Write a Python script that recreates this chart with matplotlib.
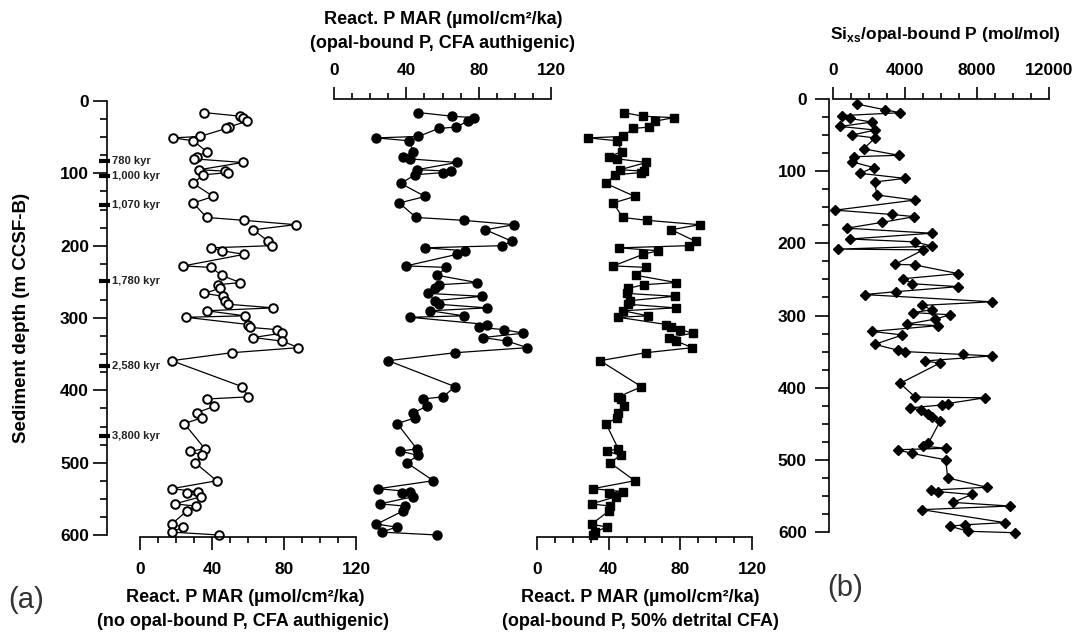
"""
Reactive P mass accumulation rates down core, with Si_xs/opal-bound P ratio.
Three MAR scenarios share one depth axis in panel (a); panel (b) is the ratio.
"""

import matplotlib; matplotlib.use("Agg")
import matplotlib.pyplot as plt
from matplotlib.ticker import MultipleLocator
from matplotlib.transforms import blended_transform_factory

plt.rcParams["font.family"] = ["Liberation Sans", "DejaVu Sans"]
plt.rcParams["font.weight"] = "bold"
plt.rcParams["mathtext.fontset"] = "custom"
plt.rcParams["mathtext.rm"] = "Liberation Sans:bold"
plt.rcParams["mathtext.bf"] = "Liberation Sans:bold"

# --- panel (a): sample depths (m CCSF-B) and MAR values (umol/cm2/ka) ---
depth_a = [16, 21, 23, 28, 36, 38, 49, 51, 55, 70,
           77, 80, 85, 95, 97, 99, 102, 114, 132, 141,
           161, 165, 171, 178, 194, 200, 203, 207, 212, 228,
           230, 241, 251, 254, 259, 266, 270, 276, 281, 286,
           290, 297, 299, 309, 313, 316, 321, 327, 332, 341,
           348, 359, 395, 409, 412, 422, 431, 438, 446, 481,
           484, 490, 500, 525, 536, 540, 542, 547, 557, 560,
           567, 585, 589, 596, 600]

mar_no_opal = [35.6, 55.6, 57.4, 59.3, 49.4, 48.0, 33.3, 18.5, 29.6, 37.0,
               31.5, 30.0, 57.0, 33.0, 47.2, 49.0, 35.2, 29.6, 40.7, 29.6,
               37.0, 57.9, 86.4, 62.9, 71.3, 73.1, 39.4, 45.4, 57.9, 24.1,
               39.4, 45.4, 55.6, 43.5, 44.4, 35.7, 46.3, 47.2, 49.1, 74.1,
               37.0, 58.3, 25.5, 60.2, 61.1, 75.9, 78.7, 62.9, 79.1, 88.0,
               50.9, 17.6, 56.8, 60.2, 37.0, 41.3, 31.5, 34.3, 24.6, 36.1,
               27.8, 34.6, 30.6, 42.6, 17.6, 32.0, 25.9, 33.9, 19.4, 30.9,
               25.9, 17.6, 24.1, 17.6, 43.9]

mar_opal_auth = [46.7, 65.2, 77.2, 73.9, 67.6, 57.8, 46.7, 23.5, 41.5, 43.9,
                 38.3, 42.0, 68.0, 45.8, 64.6, 60.0, 44.8, 36.9, 50.4, 36.1,
                 45.4, 71.7, 99.5, 83.7, 98.5, 92.9, 50.4, 72.6, 68.0, 39.8,
                 62.0, 57.2, 79.1, 58.0, 55.9, 52.0, 81.9, 56.0, 57.8, 84.6,
                 53.2, 71.7, 42.1, 84.7, 80.0, 93.9, 104.7, 82.4, 95.8, 106.9,
                 67.0, 30.0, 67.0, 60.2, 49.1, 51.3, 43.9, 44.8, 35.0, 45.8,
                 36.5, 46.7, 40.2, 55.0, 24.4, 42.0, 37.4, 43.9, 25.4, 39.3,
                 38.0, 23.5, 34.6, 26.3, 57.2]

mar_opal_detr = [48.5, 58.9, 76.3, 65.7, 62.6, 53.7, 47.8, 28.7, 44.8, 47.2,
                 40.3, 44.8, 61.1, 46.3, 59.6, 58.0, 43.5, 38.5, 54.6, 42.6,
                 47.8, 61.5, 90.7, 75.0, 88.5, 84.8, 45.9, 67.6, 59.2, 42.6,
                 60.7, 55.2, 77.8, 59.6, 50.9, 50.0, 76.8, 52.0, 50.9, 77.4,
                 48.0, 62.0, 45.4, 72.2, 75.0, 80.0, 87.0, 73.7, 77.8, 86.7,
                 60.7, 35.2, 58.3, 45.4, 47.0, 48.5, 45.4, 44.8, 38.5, 45.4,
                 39.2, 46.7, 40.7, 54.6, 31.1, 48.1, 40.3, 44.1, 30.5, 40.7,
                 40.0, 30.5, 38.9, 32.4, 31.5]

# age tie points on the depth scale
age_labels = ["780 kyr", "1,000 kyr", "1,070 kyr", "1,780 kyr", "2,580 kyr", "3,800 kyr"]
age_depths = [83, 103, 144, 249, 366, 463]

# --- panel (b): Si_xs / opal-bound P (mol/mol) ---
depth_b = [7, 15, 19, 23, 27, 32, 38, 43, 50, 54,
           69, 78, 80, 87, 95, 103, 110, 115, 133, 140,
           154, 160, 163, 171, 179, 186, 194, 198, 204, 208,
           209, 229, 230, 242, 249, 256, 260, 267, 271, 281,
           286, 292, 296, 299, 305, 312, 314, 322, 327, 340,
           348, 350, 354, 356, 363, 366, 394, 413, 414, 422,
           424, 428, 431, 437, 440, 446, 477, 481, 484, 486,
           491, 500, 525, 538, 542, 544, 548, 559, 564, 569,
           587, 590, 592, 599, 601]
ratio_b = [1330, 2900, 3730, 500, 960, 2160, 400, 2340, 1050, 2340,
           1700, 3640, 1140, 1050, 2250, 1510, 4000, 2310, 2440, 4560,
           130, 3270, 4520, 2710, 770, 5480, 960, 4560, 5520, 280,
           5020, 3450, 4560, 6960, 3910, 4410, 6960, 3490, 1750, 8810,
           4930, 5480, 4470, 6500, 5670, 4100, 5850, 2160, 3860, 2310,
           3600, 4000, 7240, 8810, 5110, 5930, 3730, 4560, 8440, 6370,
           6040, 4280, 4900, 5300, 5480, 5960, 5300, 5020, 6260, 3600,
           4370, 6260, 6370, 8530, 5440, 5850, 7700, 6680, 9820, 4930,
           9540, 7330, 6500, 7520, 10100]

W, H = 1082, 643
TICK_FS = 12.5
TITLE_FS = 13
fig = plt.figure(figsize=(W / 100, H / 100), dpi=100)


def add_px_axes(x0, x1, y0, y1):
    # axes box given in pixels from the top-left corner
    return fig.add_axes([x0 / W, 1 - y1 / H, (x1 - x0) / W, (y1 - y0) / H])


def ruler(ax, xmax, xminor, side, offset=1.5):
    ax.patch.set_visible(False)
    for sp in ax.spines.values():
        sp.set_visible(False)
    sp = ax.spines[side]
    sp.set_visible(True)
    sp.set_linewidth(1.2)
    sp.set_position(("outward", offset))
    ax.set_xlim(0, xmax)
    ax.set_ylim(600, 0)
    ax.xaxis.set_major_locator(MultipleLocator(xmax / 3))
    ax.xaxis.set_minor_locator(MultipleLocator(xminor))
    if side == "top":
        ax.xaxis.tick_top()
        pad = 6
    else:
        ax.xaxis.tick_bottom()
        pad = 9
    ax.tick_params(axis="x", which="major", length=9, width=1.2, pad=pad, labelsize=TICK_FS)
    ax.tick_params(axis="x", which="minor", length=4.5, width=1.2)
    ax.tick_params(axis="y", which="both", left=False, labelleft=False)


def depth_axis(ax, offset_px, pad=4):
    sp = ax.spines["left"]
    sp.set_visible(True)
    sp.set_linewidth(1.2)
    sp.set_position(("outward", offset_px * 0.72))
    ax.yaxis.set_major_locator(MultipleLocator(100))
    ax.yaxis.set_minor_locator(MultipleLocator(25))
    ax.tick_params(axis="y", which="major", left=True, labelleft=True,
                   length=10, width=1.2, pad=pad, labelsize=TICK_FS)
    ax.tick_params(axis="y", which="minor", left=True, length=5, width=1.2)


line_kw = dict(color="black", lw=0.9, clip_on=False)

ax1 = add_px_axes(140, 356, 101, 535)
ruler(ax1, 120, 10, "bottom")
depth_axis(ax1, 33, pad=3)
ax1.plot(mar_no_opal, depth_a, marker="o", ms=6.2, mfc="white", mec="black", mew=1.4, **line_kw)

ax2 = add_px_axes(334, 551, 101, 535)
ruler(ax2, 120, 10, "top")
ax2.plot(mar_opal_auth, depth_a, marker="o", ms=6.5, mfc="black", mec="black", **line_kw)

ax3 = add_px_axes(537, 752, 101, 535)
ruler(ax3, 120, 10, "bottom")
ax3.plot(mar_opal_detr, depth_a, marker="s", ms=6, mfc="black", mec="black", **line_kw)

axb = add_px_axes(833, 1049, 99, 532)
ruler(axb, 12000, 1000, "top", offset=0)
depth_axis(axb, 4, pad=6)
axb.plot(ratio_b, depth_b, marker="D", ms=5, mfc="black", mec="black", **line_kw)

# age tie points: short thick bars across the depth spine
trans = blended_transform_factory(ax1.transAxes, ax1.transData)
for lab, d in zip(age_labels, age_depths):
    ax1.plot([(99 - 140) / 216, (110 - 140) / 216], [d, d], color="black", lw=3,
             solid_capstyle="butt", transform=trans, clip_on=False)
    ax1.text((112 - 140) / 216, d, lab, transform=trans, fontsize=8,
             va="center", ha="left", color="#222222")


# axis titles
def ftext(x, y, s, **kw):
    fig.text(x / W, 1 - y / H, s, ha="center", va="center", **kw)


ftext(245, 597, "React. P MAR (µmol/cm²/ka)", fontsize=TITLE_FS)
ftext(243, 622, "(no opal-bound P, CFA authigenic)", fontsize=TITLE_FS)
ftext(443, 19, "React. P MAR (µmol/cm²/ka)", fontsize=TITLE_FS)
ftext(443, 43, "(opal-bound P, CFA authigenic)", fontsize=TITLE_FS)
ftext(640, 597, "React. P MAR (µmol/cm²/ka)", fontsize=TITLE_FS)
ftext(640, 622, "(opal-bound P, 50% detrital CFA)", fontsize=TITLE_FS)
ftext(945, 34, r"Si$_{\mathbf{xs}}$/opal-bound P (mol/mol)", fontsize=12.5)
ftext(22, 318, "Sediment depth (m CCSF-B)", fontsize=13.5, rotation=90)

ftext(26, 600, "(a)", fontsize=21, fontweight="normal", color="#333333")
ftext(845, 588, "(b)", fontsize=21, fontweight="normal", color="#333333")

fig.savefig("out.png", dpi=100)
